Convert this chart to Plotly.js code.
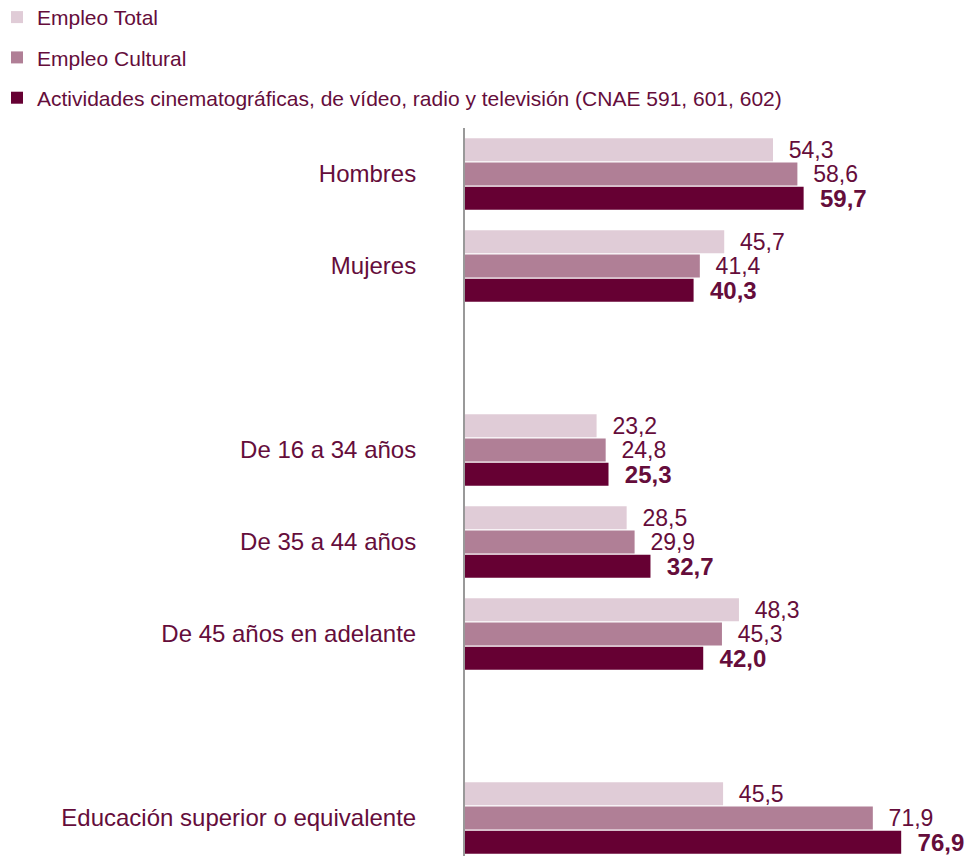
<!DOCTYPE html>
<html>
<head>
<meta charset="utf-8">
<script src="https://cdn.plot.ly/plotly-3.0.1.min.js"></script>
<style>html,body{margin:0;padding:0;background:#fff;}#chart{width:965px;height:856px;}</style>
</head>
<body>
<div id="chart"></div>
<script>
const categoryOrder = ['Hombres', 'Mujeres', ' ', 'De 16 a 34 años', 'De 35 a 44 años', 'De 45 años en adelante', '  ', 'Educación superior o equivalente'];
const categories = ['Hombres', 'Mujeres', 'De 16 a 34 años', 'De 35 a 44 años', 'De 45 años en adelante', 'Educación superior o equivalente'];
const seriesNames = ['Empleo Total', 'Empleo Cultural', 'Actividades cinematográficas, de vídeo, radio y televisión (CNAE 591, 601, 602)'];
const empleoTotal = [54.3, 45.7, 23.2, 28.5, 48.3, 45.5];
const empleoCultural = [58.6, 41.4, 24.8, 29.9, 45.3, 71.9];
const actividadesCine = [59.7, 40.3, 25.3, 32.7, 42.0, 76.9];

const textColor = '#650D3B';
const colors = ['#E0CCD7', '#B07F96', '#660033'];
const seriesValues = [empleoTotal, empleoCultural, actividadesCine];
const FONT = 'Liberation Sans, Arial, sans-serif';

const traces = seriesValues.map((vals, i) => ({
  type: 'bar',
  orientation: 'h',
  name: seriesNames[i],
  legendgroup: 'g' + i,
  y: categories,
  x: vals,
  marker: {color: colors[i]},
  texttemplate: '\u00a0\u00a0%{x:.1f}',
  textposition: 'outside',
  constraintext: 'none',
  cliponaxis: false,
  textfont: {family: FONT, size: i === 2 ? 24 : 23, color: textColor, weight: i === 2 ? 'bold' : 'normal'},
  hoverinfo: 'skip'
}));

const layout = {
  width: 965,
  height: 856,
  margin: {l: 465, r: 0, t: 128, b: 0, pad: 0, autoexpand: false},
  paper_bgcolor: '#ffffff',
  plot_bgcolor: '#ffffff',
  separators: ',.',
  barmode: 'group',
  bargap: 0.207,
  bargroupgap: 0.05,
  font: {family: FONT, color: textColor},
  showlegend: true,
  legend: {
    xref: 'paper', yref: 'paper',
    x: -0.936, y: 1.18, xanchor: 'left', yanchor: 'top',
    font: {family: FONT, size: 21, color: textColor},
    traceorder: 'grouped',
    tracegroupgap: 10,
    bgcolor: 'rgba(0,0,0,0)',
    borderwidth: 0
  },
  xaxis: {
    range: [0, 88.15],
    visible: false,
    showgrid: false,
    zeroline: false,
    fixedrange: true
  },
  yaxis: {
    type: 'category',
    categoryorder: 'array',
    categoryarray: categoryOrder,
    range: [7.413, -0.5],
    showline: true,
    linecolor: '#999999',
    linewidth: 2,
    showgrid: false,
    zeroline: false,
    ticks: '',
    ticklabelstandoff: 42,
    tickfont: {family: FONT, size: 24, color: textColor},
    fixedrange: true
  }
};

Plotly.newPlot('chart', traces, layout, {displayModeBar: false, staticPlot: true});
</script>
</body>
</html>
